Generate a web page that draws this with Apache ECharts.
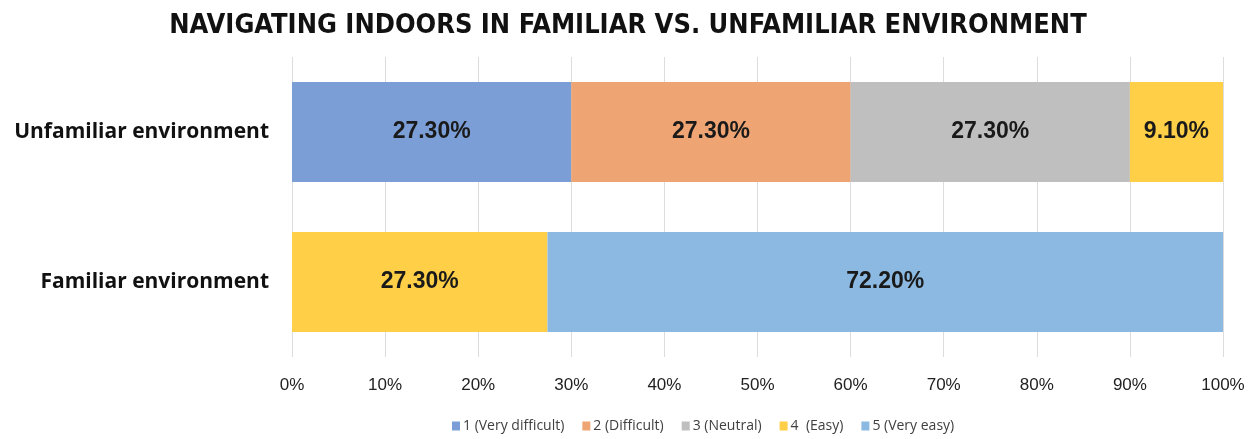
<!DOCTYPE html>
<html>
<head>
<meta charset="utf-8">
<script src="https://cdn.jsdelivr.net/npm/echarts@6/dist/echarts.min.js"></script>
<style>html,body{margin:0;padding:0;background:#fff;}#c{width:1256px;height:439px;}</style>
</head>
<body>
<div id="c"></div>
<script>
const titleText = 'NAVIGATING INDOORS IN FAMILIAR VS. UNFAMILIAR ENVIRONMENT';
const categories = ['Unfamiliar environment', 'Familiar environment'];
const seriesNames = ['1 (Very difficult)', '2 (Difficult)', '3 (Neutral)', '4  (Easy)', '5 (Very easy)'];
const veryDifficult = [27.3, 0];
const difficult = [27.3, 0];
const neutral = [27.3, 0];
const easy = [9.1, 27.3];
const veryEasy = [0, 72.2];
const xTicks = [0, 10, 20, 30, 40, 50, 60, 70, 80, 90, 100];
const colors = ['#7b9ed7', '#efa573', '#bfbfbf', '#fecf47', '#8cb9e1'];

const raw = [veryDifficult, difficult, neutral, easy, veryEasy];
const totals = categories.map((_, i) => raw.reduce((s, arr) => s + arr[i], 0));

const series = raw.map((arr, si) => ({
  name: seriesNames[si],
  type: 'bar',
  stack: 'total',
  barWidth: 100,
  itemStyle: { color: colors[si] },
  label: {
    show: true,
    position: 'inside',
    fontFamily: 'Liberation Sans, Arial, sans-serif',
    fontWeight: 'bold',
    fontSize: 23,
    color: '#1a1a1a',
    formatter: p => p.data.raw > 0 ? p.data.raw.toFixed(2) + '%' : ''
  },
  data: arr.map((v, i) => ({ value: v / totals[i] * 100, raw: v }))
}));

const chart = echarts.init(document.getElementById('c'), null, { renderer: 'canvas' });
chart.setOption({
  animation: false,
  backgroundColor: '#ffffff',
  title: {
    text: titleText,
    left: 'center',
    top: 7,
    textStyle: {
      fontFamily: 'Liberation Sans Narrow, Arial Narrow, DejaVu Sans Condensed, sans-serif',
      fontWeight: 'bold',
      fontSize: 27,
      color: '#111'
    }
  },
  legend: {
    left: 447,
    top: 414,
    itemWidth: 8,
    itemHeight: 9,
    itemGap: 18,
    icon: 'rect',
    textStyle: { fontFamily: 'Open Sans, sans-serif', fontSize: 14, color: '#404040', padding: [0, 0, 0, -2] },
    data: seriesNames
  },
  grid: { left: 292, right: 33, top: 57, bottom: 82, containLabel: false },
  xAxis: {
    type: 'value',
    min: xTicks[0],
    max: xTicks[xTicks.length - 1],
    interval: 10,
    axisLine: { show: false },
    axisTick: { show: false },
    splitLine: { show: true, lineStyle: { color: '#dcdcdc', width: 1 } },
    axisLabel: {
      formatter: '{value}%',
      fontFamily: 'Liberation Sans, Arial, sans-serif',
      fontSize: 17,
      color: '#222',
      margin: 20
    }
  },
  yAxis: {
    type: 'category',
    inverse: true,
    data: categories,
    axisLine: { show: false },
    axisTick: { show: false },
    axisLabel: {
      fontFamily: 'Open Sans, sans-serif',
      fontWeight: 'bold',
      fontSize: 21,
      color: '#111',
      margin: 23,
      padding: [4, 0, 0, 0]
    }
  },
  series: series
});
</script>
</body>
</html>
